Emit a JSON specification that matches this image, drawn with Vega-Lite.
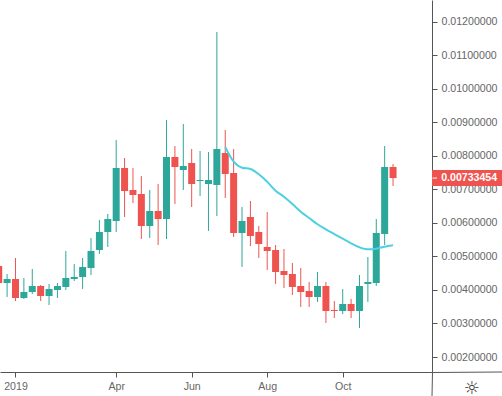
{"$schema":"https://vega.github.io/schema/vega-lite/v6.json","width":432,"height":372,"autosize":{"type":"none"},"padding":{"left":0,"top":0,"right":70,"bottom":24},"background":"#ffffff","view":{"stroke":null},
"datasets":{"candles":[
{"date":"2018-12-24","open":0.004714,"high":0.004833,"low":0.003998,"close":0.004207},
{"date":"2018-12-31","open":0.004207,"high":0.004475,"low":0.00379,"close":0.004326},
{"date":"2019-01-07","open":0.004326,"high":0.004952,"low":0.00367,"close":0.00376},
{"date":"2019-01-14","open":0.00376,"high":0.004356,"low":0.00373,"close":0.003939},
{"date":"2019-01-21","open":0.003939,"high":0.004624,"low":0.003879,"close":0.004118},
{"date":"2019-01-28","open":0.004118,"high":0.004147,"low":0.00367,"close":0.003819},
{"date":"2019-02-04","open":0.003819,"high":0.004177,"low":0.003551,"close":0.004028},
{"date":"2019-02-11","open":0.003998,"high":0.004207,"low":0.00376,"close":0.004118},
{"date":"2019-02-18","open":0.004088,"high":0.005161,"low":0.003998,"close":0.004356},
{"date":"2019-02-25","open":0.004326,"high":0.004773,"low":0.004267,"close":0.004386},
{"date":"2019-03-04","open":0.004386,"high":0.004952,"low":0.004028,"close":0.004684},
{"date":"2019-03-11","open":0.004654,"high":0.005548,"low":0.004445,"close":0.005161},
{"date":"2019-03-18","open":0.00519,"high":0.006085,"low":0.005071,"close":0.005727},
{"date":"2019-03-25","open":0.005727,"high":0.006264,"low":0.00528,"close":0.006114},
{"date":"2019-04-01","open":0.006055,"high":0.008469,"low":0.005727,"close":0.007635},
{"date":"2019-04-08","open":0.007635,"high":0.007933,"low":0.006174,"close":0.006949},
{"date":"2019-04-15","open":0.006979,"high":0.007635,"low":0.006591,"close":0.00683},
{"date":"2019-04-22","open":0.00686,"high":0.007396,"low":0.005518,"close":0.005906},
{"date":"2019-04-29","open":0.005906,"high":0.006979,"low":0.005548,"close":0.006353},
{"date":"2019-05-06","open":0.006353,"high":0.007158,"low":0.00534,"close":0.006114},
{"date":"2019-05-13","open":0.006114,"high":0.009065,"low":0.005518,"close":0.007962},
{"date":"2019-05-20","open":0.007962,"high":0.00829,"low":0.006562,"close":0.007664},
{"date":"2019-05-27","open":0.007575,"high":0.008946,"low":0.006979,"close":0.007694},
{"date":"2019-06-03","open":0.007784,"high":0.008201,"low":0.006472,"close":0.007158},
{"date":"2019-06-10","open":0.007247,"high":0.008141,"low":0.0068,"close":0.007277},
{"date":"2019-06-17","open":0.007158,"high":0.008111,"low":0.005757,"close":0.007277},
{"date":"2019-06-24","open":0.007128,"high":0.011688,"low":0.006204,"close":0.008201},
{"date":"2019-07-01","open":0.008082,"high":0.008767,"low":0.00674,"close":0.007456,"ma":0.008261},
{"date":"2019-07-08","open":0.007486,"high":0.008201,"low":0.005578,"close":0.005697,"ma":0.007822},
{"date":"2019-07-15","open":0.005697,"high":0.006472,"low":0.004684,"close":0.006055,"ma":0.007644},
{"date":"2019-07-22","open":0.006174,"high":0.006651,"low":0.00531,"close":0.005608,"ma":0.007605},
{"date":"2019-07-29","open":0.005727,"high":0.005906,"low":0.004952,"close":0.005369,"ma":0.007447},
{"date":"2019-08-05","open":0.00528,"high":0.006323,"low":0.004594,"close":0.005161,"ma":0.007226},
{"date":"2019-08-12","open":0.00519,"high":0.00534,"low":0.004177,"close":0.004535,"ma":0.006958},
{"date":"2019-08-19","open":0.004565,"high":0.00522,"low":0.004058,"close":0.004445,"ma":0.006779},
{"date":"2019-08-26","open":0.004475,"high":0.004803,"low":0.003849,"close":0.004088,"ma":0.006562},
{"date":"2019-09-02","open":0.004118,"high":0.004654,"low":0.003492,"close":0.003939,"ma":0.006332},
{"date":"2019-09-09","open":0.003968,"high":0.004237,"low":0.003492,"close":0.00379,"ma":0.006144},
{"date":"2019-09-16","open":0.00379,"high":0.004535,"low":0.003641,"close":0.004118,"ma":0.005957},
{"date":"2019-09-23","open":0.004118,"high":0.004237,"low":0.003015,"close":0.003372,"ma":0.005808},
{"date":"2019-09-30","open":0.003402,"high":0.00367,"low":0.003164,"close":0.003372,"ma":0.005667},
{"date":"2019-10-07","open":0.003372,"high":0.004028,"low":0.003283,"close":0.003581,"ma":0.005527},
{"date":"2019-10-14","open":0.003581,"high":0.00373,"low":0.003164,"close":0.003372,"ma":0.00539},
{"date":"2019-10-21","open":0.003372,"high":0.004445,"low":0.002866,"close":0.004118,"ma":0.005271},
{"date":"2019-10-28","open":0.004177,"high":0.004982,"low":0.003641,"close":0.004237,"ma":0.005211},
{"date":"2019-11-04","open":0.004207,"high":0.006114,"low":0.004118,"close":0.005697,"ma":0.005229},
{"date":"2019-11-11","open":0.005667,"high":0.00829,"low":0.00534,"close":0.007664,"ma":0.005289},
{"date":"2019-11-18","open":0.007664,"high":0.007754,"low":0.007098,"close":0.00733454,"ma":0.005331}
],
"tag":[{"start":"2019-12-20T12:00:00Z","mid":"2020-01-20T12:00:00Z","end":"2020-02-17T00:00:00Z","tickEnd":"2019-12-24T16:00:00Z","price":0.00733454}],
"frame":[{"x":"2019-12-20T12:00:00Z","x2":"2019-12-20T12:00:00Z","y":0.001554,"y2":0.000839},{"x":"2019-12-20T12:00:00Z","x2":"2020-02-17T00:00:00Z","y":0.001554,"y2":0.001554}]},
"layer":[
{"data":{"name":"candles"},"mark":{"type":"rule","strokeWidth":1},
"encoding":{"x":{"field":"date","type":"temporal","title":"☼","scale":{"type":"utc","padding":0,"nice":false,"domain":[{"year":2018,"month":12,"date":25,"hours":1,"minutes":40,"utc":true},{"year":2019,"month":12,"date":20,"hours":12,"utc":true}]},
"axis":{"values":[{"year":2019,"month":1,"date":7,"utc":true},{"year":2019,"month":4,"date":1,"utc":true},{"year":2019,"month":6,"date":3,"utc":true},{"year":2019,"month":8,"date":5,"utc":true},{"year":2019,"month":10,"date":7,"utc":true}],"labelExpr":"utcmonth(datum.value)==0?'2019':utcFormat(datum.value,'%b')","grid":false,"domainColor":"#555555","tickColor":"#555555","tickSize":5,"labelColor":"#666666","labelFont":"Liberation Sans","labelFontSize":10.6,"labelPadding":4,"labelFlush":false,"labelOverlap":false,"titleFont":"DejaVu Sans","titleFontSize":18,"titleFontWeight":"normal","titleColor":"#333333","titleX":471,"titleY":21,"titleBaseline":"alphabetic","titleAnchor":null}},
"y":{"field":"low","type":"quantitative","title":null,"scale":{"domain":[0.001554,0.012642],"padding":0,"nice":false,"zero":false},
"axis":{"orient":"right","tickCount":12,"values":[0.002,0.003,0.004,0.005,0.006,0.007,0.008,0.009,0.01,0.011,0.012],"format":".8f","grid":false,"domainColor":"#555555","tickColor":"#555555","tickSize":5,"labelColor":"#666666","labelFont":"Liberation Sans","labelFontSize":10.6,"labelPadding":4,"labelOverlap":false,"labelFlush":false}},
"y2":{"field":"high"},
"color":{"condition":{"test":"datum.close >= datum.open","value":"#2ea79b"},"value":"#ef5350"}}},
{"data":{"name":"candles"},"mark":{"type":"bar","size":7},
"encoding":{"x":{"field":"date","type":"temporal"},"y":{"field":"open","type":"quantitative"},"y2":{"field":"close"},
"color":{"condition":{"test":"datum.close >= datum.open","value":"#2ea79b"},"value":"#ef5350"}}},
{"data":{"name":"candles"},"mark":{"type":"line","color":"#4dd0e1","strokeWidth":2,"interpolate":"monotone"},
"encoding":{"x":{"field":"date","type":"temporal"},"y":{"field":"ma","type":"quantitative"}}},
{"data":{"name":"frame"},"mark":{"type":"rule","color":"#555555","strokeWidth":1,"xOffset":0.5,"yOffset":0.5},
"encoding":{"x":{"field":"x","type":"temporal"},"x2":{"field":"x2"},"y":{"field":"y","type":"quantitative"},"y2":{"field":"y2"}}},
{"data":{"name":"tag"},"mark":{"type":"bar","orient":"horizontal","size":16,"color":"#ef5350"},
"encoding":{"x":{"field":"start","type":"temporal"},"x2":{"field":"end"},"y":{"field":"price","type":"quantitative"}}},
{"data":{"name":"tag"},"mark":{"type":"rule","color":"#ffffff","strokeWidth":1,"xOffset":0.5},
"encoding":{"x":{"field":"start","type":"temporal"},"x2":{"field":"tickEnd"},"y":{"field":"price","type":"quantitative"}}},
{"data":{"name":"tag"},"mark":{"type":"text","color":"#ffffff","font":"Liberation Sans","fontSize":10.6,"fontWeight":"bold","align":"center","baseline":"middle"},
"encoding":{"x":{"field":"mid","type":"temporal"},"y":{"field":"price","type":"quantitative"},"text":{"field":"price","type":"quantitative","format":".8f"}}}
]}
